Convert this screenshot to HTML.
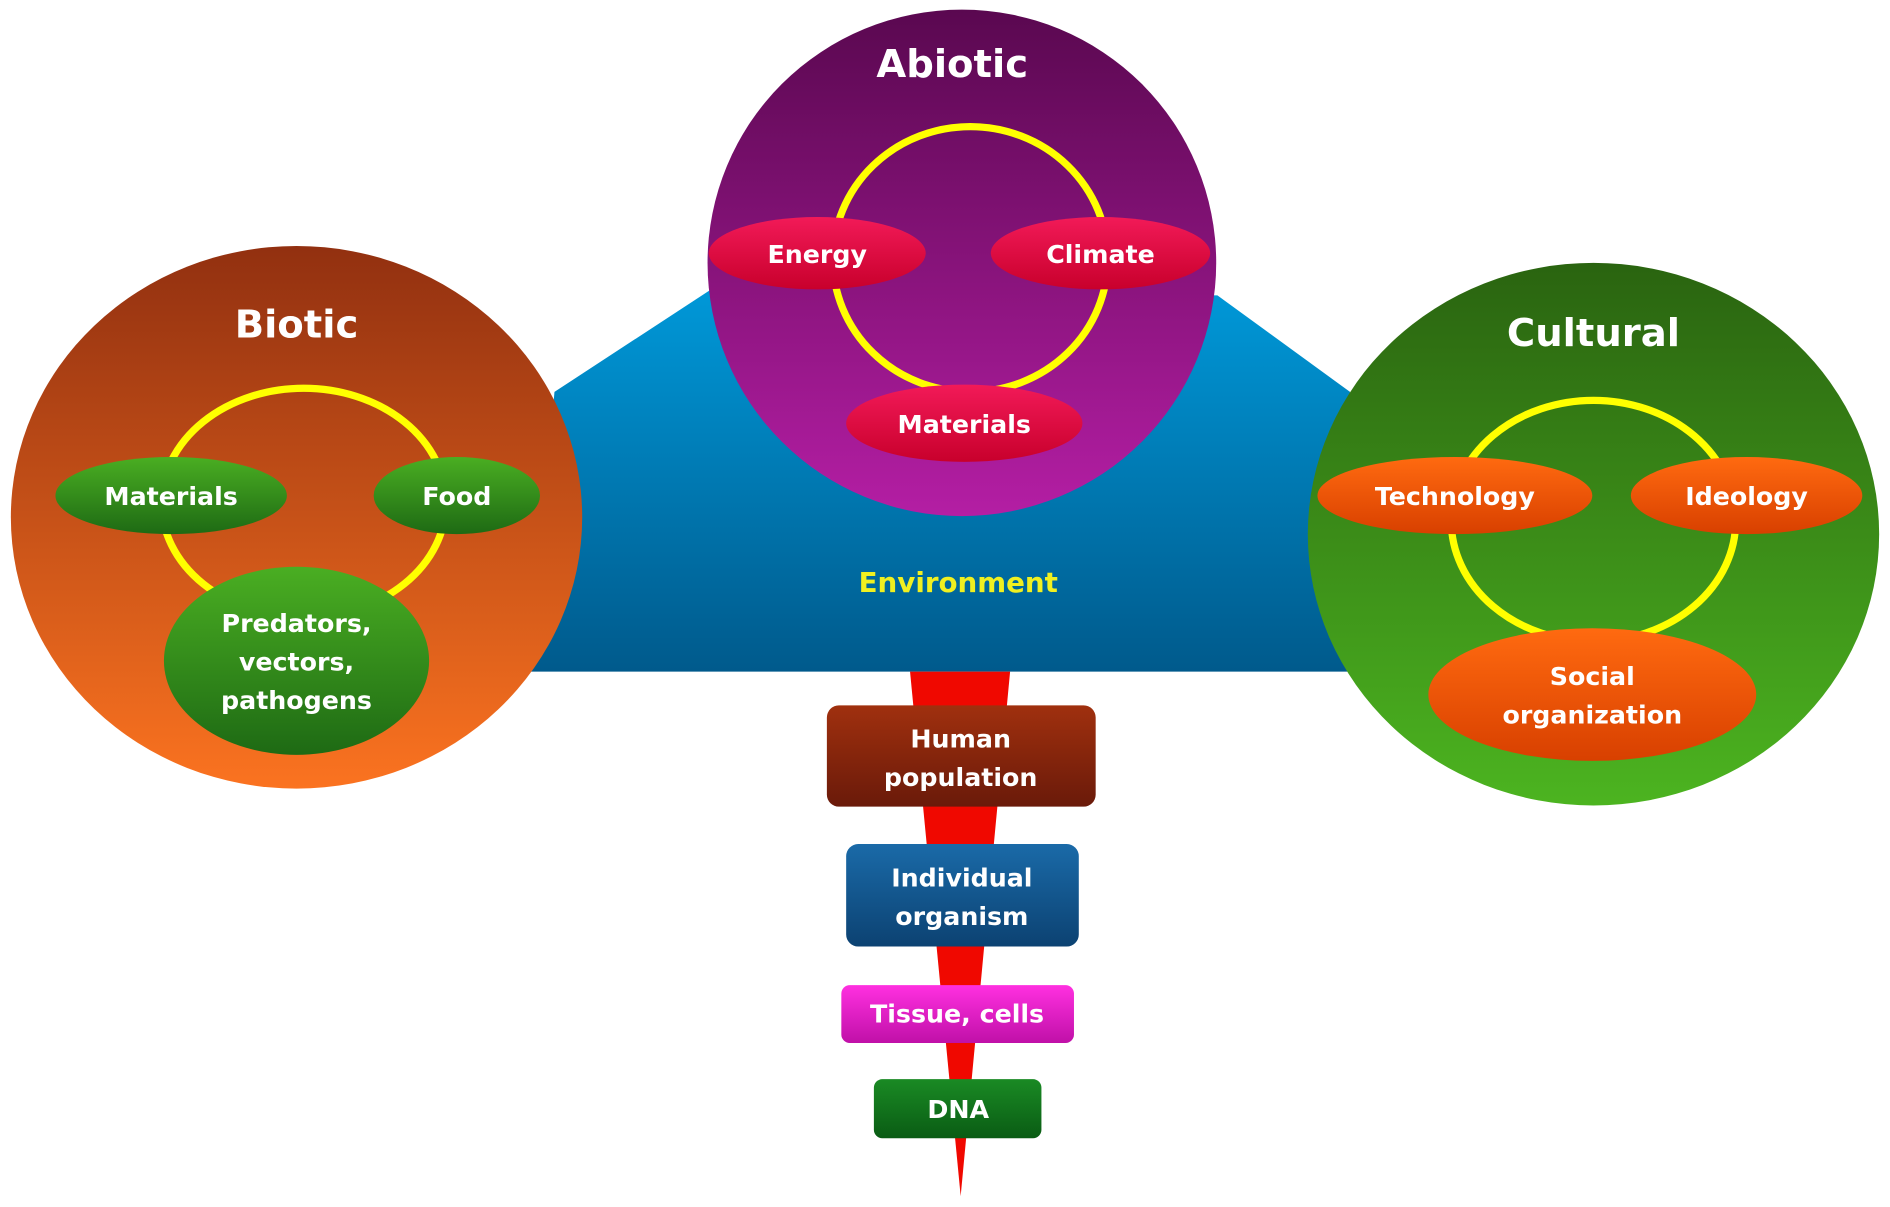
<!DOCTYPE html>
<html><head><meta charset="utf-8"><style>html,body{margin:0;padding:0;background:#fff;overflow:hidden}svg{display:block}text{font-family:"DejaVu Sans","Liberation Sans",sans-serif;font-weight:bold;fill:#fff;text-anchor:middle}</style></head>
<body>
<svg width="1890" height="1207" viewBox="0 0 1568 1001" preserveAspectRatio="none" xmlns="http://www.w3.org/2000/svg">
<defs>
<linearGradient id="blue" x1="0" y1="0" x2="0" y2="1"><stop offset="0" stop-color="#0098d8"/><stop offset="1" stop-color="#005a8c"/></linearGradient>
<linearGradient id="bio" x1="0" y1="0" x2="0" y2="1"><stop offset="0" stop-color="#923010"/><stop offset="1" stop-color="#fb7320"/></linearGradient>
<linearGradient id="abi" x1="0" y1="0" x2="0" y2="1"><stop offset="0" stop-color="#5a0850"/><stop offset="1" stop-color="#b41ea4"/></linearGradient>
<linearGradient id="cul" x1="0" y1="0" x2="0" y2="1"><stop offset="0" stop-color="#2a6410"/><stop offset="1" stop-color="#4cb420"/></linearGradient>
<linearGradient id="gr" x1="0" y1="0" x2="0" y2="1"><stop offset="0" stop-color="#4aae22"/><stop offset="1" stop-color="#1e6a14"/></linearGradient>
<linearGradient id="rd" x1="0" y1="0" x2="0" y2="1"><stop offset="0" stop-color="#f21a58"/><stop offset="1" stop-color="#c8002c"/></linearGradient>
<linearGradient id="or" x1="0" y1="0" x2="0" y2="1"><stop offset="0" stop-color="#ff6a10"/><stop offset="1" stop-color="#d84000"/></linearGradient>
<linearGradient id="hp" x1="0" y1="0" x2="0" y2="1"><stop offset="0" stop-color="#a0300e"/><stop offset="1" stop-color="#6a1a0a"/></linearGradient>
<linearGradient id="io" x1="0" y1="0" x2="0" y2="1"><stop offset="0" stop-color="#1a6aa8"/><stop offset="1" stop-color="#0c4272"/></linearGradient>
<linearGradient id="tc" x1="0" y1="0" x2="0" y2="1"><stop offset="0" stop-color="#ff30e0"/><stop offset="1" stop-color="#c010a8"/></linearGradient>
<linearGradient id="dn" x1="0" y1="0" x2="0" y2="1"><stop offset="0" stop-color="#1a8a24"/><stop offset="1" stop-color="#0a5c14"/></linearGradient>
</defs>
<polygon points="590,240 1010,245 1120,325 1120,557 440,557 460,325" fill="url(#blue)"/>
<polygon points="755,557 838,557 797,992" fill="#f00800"/>
<text x="795" y="491" font-size="23" style="fill:#f0f020">Environment</text>

<ellipse cx="246" cy="429" rx="237" ry="225" fill="url(#bio)"/>
<text x="246" y="280" font-size="32">Biotic</text>
<ellipse cx="252" cy="417" rx="118" ry="95" fill="none" stroke="#ffff00" stroke-width="6"/>
<ellipse cx="142" cy="411" rx="96" ry="32" fill="url(#gr)"/>
<text x="142" y="419" font-size="21">Materials</text>
<ellipse cx="379" cy="411" rx="69" ry="32" fill="url(#gr)"/>
<text x="379" y="419" font-size="21">Food</text>
<ellipse cx="246" cy="548" rx="110" ry="78" fill="url(#gr)"/>
<text x="246" y="524" font-size="21">Predators,</text>
<text x="246" y="556" font-size="21">vectors,</text>
<text x="246" y="588" font-size="21">pathogens</text>

<ellipse cx="798" cy="218" rx="211" ry="210" fill="url(#abi)"/>
<text x="790" y="64" font-size="32">Abiotic</text>
<ellipse cx="805" cy="215" rx="114" ry="110" fill="none" stroke="#ffff00" stroke-width="6"/>
<ellipse cx="678" cy="210" rx="90" ry="30" fill="url(#rd)"/>
<text x="678" y="218" font-size="21">Energy</text>
<ellipse cx="913" cy="210" rx="91" ry="30" fill="url(#rd)"/>
<text x="913" y="218" font-size="21">Climate</text>
<ellipse cx="800" cy="351" rx="98" ry="32" fill="url(#rd)"/>
<text x="800" y="359" font-size="21">Materials</text>

<ellipse cx="1322" cy="443" rx="237" ry="225" fill="url(#cul)"/>
<text x="1322" y="287" font-size="32">Cultural</text>
<ellipse cx="1322" cy="432" rx="118" ry="100" fill="none" stroke="#ffff00" stroke-width="6"/>
<ellipse cx="1207" cy="411" rx="114" ry="32" fill="url(#or)"/>
<text x="1207" y="419" font-size="21">Technology</text>
<ellipse cx="1449" cy="411" rx="96" ry="32" fill="url(#or)"/>
<text x="1449" y="419" font-size="21">Ideology</text>
<ellipse cx="1321" cy="576" rx="136" ry="55" fill="url(#or)"/>
<text x="1321" y="568" font-size="21">Social</text>
<text x="1321" y="600" font-size="21">organization</text>

<rect x="686" y="585" width="223" height="84" rx="10" fill="url(#hp)"/>
<text x="797" y="620" font-size="21">Human</text>
<text x="797" y="652" font-size="21">population</text>
<rect x="702" y="700" width="193" height="85" rx="10" fill="url(#io)"/>
<text x="798" y="735" font-size="21">Individual</text>
<text x="798" y="767" font-size="21">organism</text>
<rect x="698" y="817" width="193" height="48" rx="7" fill="url(#tc)"/>
<text x="794" y="848" font-size="21">Tissue, cells</text>
<rect x="725" y="895" width="139" height="49" rx="7" fill="url(#dn)"/>
<text x="795" y="927" font-size="21">DNA</text>
</svg>
</body></html>
